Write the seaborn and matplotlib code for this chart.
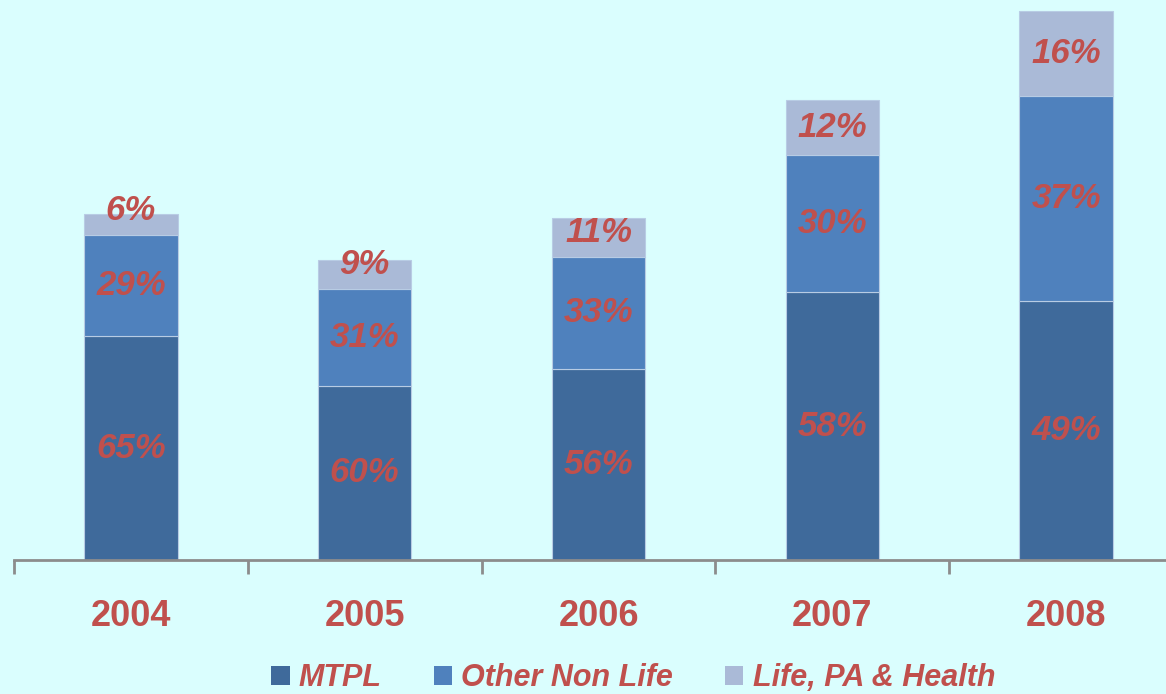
import matplotlib
matplotlib.use('Agg')
import matplotlib.pyplot as plt
from matplotlib.patches import Patch
import numpy as np
import pandas as pd
import seaborn as sns

# data (segment heights in relative units, labels as printed)
years = ['2004', '2005', '2006', '2007', '2008']
mtpl = [224, 174, 191, 268, 259]
other = [101, 97, 112, 137, 205]
life = [21, 29, 39, 55, 85]
mtpl_pct = [65, 60, 56, 58, 49]
other_pct = [29, 31, 33, 30, 37]
life_pct = [6, 9, 11, 12, 16]
series_names = ['MTPL', 'Other Non Life', 'Life, PA & Health']

colors = ['#3F6A9B', '#4F81BD', '#AABAD7']
red = '#C0504D'
bg = '#DAFEFE'

sns.set_style('white')
plt.rcParams['font.family'] = ['Liberation Sans', 'DejaVu Sans']

segs = [np.array(mtpl, float), np.array(other, float), np.array(life, float)]
pcts = [mtpl_pct, other_pct, life_pct]

fig = plt.figure(figsize=(11.66, 6.94), dpi=100)
fig.patch.set_facecolor(bg)
ax = fig.add_axes([14 / 1166, 134 / 694, 1169 / 1166, 560 / 694])
ax.set_facecolor('none')

bottom = np.zeros(len(years))
for name, seg, col in zip(series_names, segs, colors):
    df = pd.DataFrame({'year': years, 'val': seg})
    sns.barplot(data=df, x='year', y='val', bottom=bottom, color=col, width=0.4,
                edgecolor='#B8CCE4', linewidth=0.8, saturation=1, ax=ax, zorder=2)
    bottom = bottom + seg

# percent labels (top segment labels are kept from sinking into thin bars)
bottom = np.zeros(len(years))
for k, (seg, p) in enumerate(zip(segs, pcts)):
    for i in range(len(years)):
        y = bottom[i] + seg[i] / 2
        if k == 2:
            y = max(y, bottom[i] + 25)
        ax.text(i, y, f'{p[i]}%', ha='center', va='center', fontsize=25,
                fontweight='bold', fontstyle='italic', color=red, zorder=3)
    bottom = bottom + seg

ax.set_xlim(-0.5, 4.5)
ax.set_ylim(0, 560)
ax.set_xlabel('')
ax.set_ylabel('')
ax.set_yticks([])
for s in ['top', 'right', 'left']:
    ax.spines[s].set_visible(False)
ax.spines['bottom'].set_color('#8C8C8C')
ax.spines['bottom'].set_linewidth(2)

ax.set_xticks(range(len(years)))
ax.set_xticklabels(years, fontsize=26, fontweight='bold', color=red)
ax.tick_params(axis='x', which='major', length=0, pad=28)
ax.set_xticks(np.arange(-0.5, 5, 1), minor=True)
ax.tick_params(axis='x', which='minor', bottom=True, length=10, width=2,
               color='#8C8C8C', direction='out')

handles = [Patch(facecolor=c, edgecolor='none') for c in colors]
leg = fig.legend(handles, series_names, loc='center', bbox_to_anchor=(0.543, 1 - 678 / 694),
                 ncol=3, frameon=False, handlelength=0.6, handleheight=0.6,
                 handletextpad=0.3, columnspacing=1.7,
                 prop={'size': 22, 'weight': 'bold', 'style': 'italic'})
for t in leg.get_texts():
    t.set_color(red)

fig.savefig('out.png', dpi=100, facecolor=bg)
